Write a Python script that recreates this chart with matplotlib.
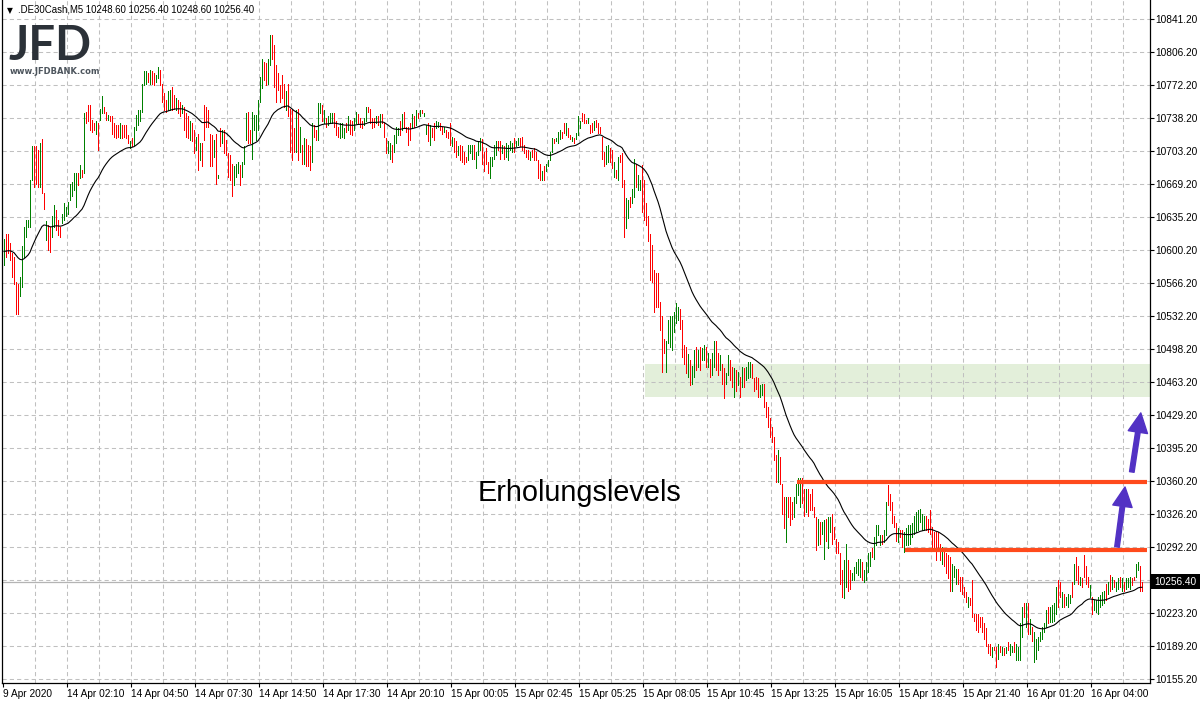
import numpy as np
import pandas as pd
import matplotlib
matplotlib.use("Agg")
import matplotlib.pyplot as plt
from matplotlib.patches import FancyArrowPatch, Rectangle
import matplotlib.transforms as mtransforms

# ---------------- data (M5 bars: high, low, up=1 / down=0) ----------------
highs = [
    10613, 10618, 10618, 10608, 10598, 10594, 10568, 10566, 10573, 10605,
    10625, 10632, 10632, 10674, 10709, 10709, 10709, 10705, 10712, 10716,
    10660, 10631, 10627, 10625, 10636, 10648, 10643, 10632, 10625, 10639,
    10650, 10646, 10651, 10670, 10672, 10681, 10681, 10681, 10689, 10684,
    10743, 10745, 10752, 10752, 10736, 10733, 10735, 10733, 10748, 10761,
    10750, 10745, 10741, 10740, 10740, 10733, 10731, 10731, 10733, 10731,
    10731, 10731, 10721, 10714, 10717, 10729, 10741, 10747, 10747, 10774,
    10787, 10787, 10785, 10788, 10787, 10785, 10783, 10791, 10788, 10774,
    10764, 10757, 10766, 10767, 10771, 10762, 10759, 10757, 10755, 10752,
    10750, 10743, 10740, 10735, 10733, 10726, 10719, 10722, 10712, 10712,
    10752, 10750, 10747, 10722, 10721, 10715, 10722, 10679, 10728, 10726,
    10726, 10715, 10702, 10700, 10691, 10688, 10691, 10693, 10689, 10693,
    10709, 10743, 10745, 10726, 10745, 10741, 10741, 10757, 10781, 10800,
    10797, 10795, 10800, 10825, 10825, 10814, 10793, 10785, 10773, 10783,
    10774, 10766, 10774, 10748, 10748,
    10728, 10747, 10748, 10729, 10710, 10717, 10716, 10710, 10709, 10733,
    10731, 10726, 10754, 10754, 10752, 10747, 10738, 10740, 10743, 10743,
    10743, 10735, 10729, 10733, 10733, 10728, 10733, 10740, 10736, 10735,
    10738, 10745, 10742, 10738, 10735, 10738, 10750, 10750, 10748, 10738,
    10738, 10740, 10740, 10742, 10742, 10733, 10717, 10714, 10712, 10710,
    10721, 10729, 10728, 10735, 10742, 10745, 10729, 10729, 10733, 10742,
    10740, 10747, 10743, 10747, 10747, 10744, 10731, 10733, 10731, 10728,
    10733, 10735, 10734, 10733, 10729, 10729,
    10726, 10724, 10733, 10719, 10717, 10714, 10709, 10710, 10709, 10703,
    10698, 10710, 10710, 10710, 10710, 10703, 10714, 10717, 10716, 10703,
    10707, 10693, 10698, 10698, 10710, 10714, 10714, 10714, 10710, 10709,
    10712, 10710, 10714, 10712, 10717, 10714, 10717, 10717, 10719, 10710,
    10705, 10705, 10703, 10705, 10707, 10703, 10695, 10690, 10683, 10688,
    10691, 10695, 10703, 10717, 10716, 10717, 10724, 10726, 10724, 10733,
    10733, 10728, 10721, 10719, 10717, 10723, 10740, 10735, 10743, 10742,
    10736, 10738, 10731, 10733, 10735, 10736, 10733, 10729,
    10719, 10703, 10709, 10710, 10707, 10705, 10693, 10684, 10698, 10700,
    10702, 10674, 10655, 10653, 10656, 10665, 10696, 10691, 10679, 10674,
    10689, 10674, 10650, 10636, 10618, 10606, 10580, 10577, 10577, 10547,
    10532, 10509, 10507, 10528, 10533, 10532, 10537, 10546, 10542, 10540,
    10528, 10502, 10500, 10493, 10487, 10481, 10497, 10500, 10497, 10500,
    10499, 10502, 10500, 10494, 10488, 10494, 10506, 10507, 10494, 10492,
    10483, 10478, 10473, 10492, 10487, 10480, 10478, 10476, 10474, 10469,
    10480, 10478, 10480, 10485, 10485, 10483, 10468, 10469, 10468, 10461,
    10462, 10462, 10443, 10438, 10426, 10417, 10407, 10388, 10393, 10386,
    10358, 10344, 10344, 10344, 10344, 10339, 10344, 10358, 10364, 10364,
    10364, 10353, 10353, 10353, 10348, 10353, 10334, 10324, 10322, 10318,
    10318, 10320, 10322, 10324, 10324, 10327, 10313, 10301, 10298, 10286,
    10268, 10279, 10296, 10279, 10268, 10265, 10272, 10277, 10280, 10280,
    10277, 10268, 10277, 10286, 10287, 10291, 10303, 10315, 10315, 10305,
    10305, 10310, 10339, 10357, 10348, 10339, 10325, 10317, 10312, 10310,
    10310, 10308, 10312, 10315, 10315,
    10317, 10325, 10329, 10331, 10332, 10327, 10325, 10325, 10322, 10331,
    10313, 10308, 10308, 10308, 10296, 10292, 10289, 10286, 10284, 10282,
    10275, 10273, 10270, 10270, 10261, 10261, 10251, 10246, 10240, 10239,
    10258, 10223, 10223, 10223, 10220, 10220, 10213, 10208, 10192, 10192,
    10188, 10188, 10188, 10192, 10190, 10188, 10187, 10188, 10194, 10192,
    10190, 10194, 10192, 10188, 10213, 10230, 10234, 10234, 10234, 10218,
    10209, 10204, 10197, 10199, 10204, 10209, 10213, 10227, 10230, 10230,
    10232, 10234, 10251, 10258, 10256, 10246, 10244, 10240, 10244, 10242,
    10256, 10275, 10282, 10273, 10261, 10260, 10284, 10273, 10261, 10253,
    10240, 10237, 10237, 10240, 10242, 10246, 10247, 10254, 10256, 10263,
    10261, 10258, 10256, 10260, 10261, 10260, 10256, 10260, 10260, 10261,
    10260, 10261, 10275, 10277, 10273, 10256,
]
lows = [
    10586, 10594, 10598, 10591, 10573, 10566, 10535, 10535, 10553, 10563,
    10594, 10615, 10625, 10625, 10674, 10667, 10670, 10667, 10667, 10660,
    10644, 10612, 10601, 10599, 10615, 10625, 10622, 10617, 10615, 10629,
    10632, 10636, 10639, 10653, 10657, 10663, 10646, 10669, 10676, 10677,
    10681, 10733, 10735, 10726, 10724, 10726, 10722, 10705, 10736, 10743,
    10743, 10736, 10736, 10735, 10722, 10719, 10717, 10719, 10717, 10717,
    10719, 10717, 10712, 10707, 10709, 10710, 10726, 10731, 10735, 10745,
    10773, 10774, 10776, 10774, 10774, 10773, 10776, 10780, 10773, 10755,
    10747, 10745, 10747, 10747, 10747, 10748, 10747, 10743, 10740, 10743,
    10726, 10719, 10717, 10715, 10714, 10702, 10705, 10684, 10695, 10688,
    10715, 10729, 10729, 10688, 10688, 10698, 10670, 10676, 10709, 10712,
    10702, 10700, 10677, 10674, 10657, 10669, 10677, 10681, 10669, 10677,
    10690, 10715, 10712, 10712, 10696, 10726, 10715, 10726, 10755, 10769,
    10778, 10773, 10774, 10793, 10800, 10771, 10755, 10767, 10755, 10759,
    10750, 10747, 10740, 10703, 10695,
    10703, 10703, 10695, 10703, 10690, 10690, 10688, 10688, 10684, 10693,
    10719, 10715, 10715, 10743, 10735, 10733, 10729, 10731, 10733, 10733,
    10729, 10721, 10719, 10717, 10719, 10717, 10724, 10726, 10722, 10721,
    10726, 10733, 10733, 10729, 10728, 10731, 10735, 10745, 10733, 10728,
    10729, 10733, 10731, 10729, 10733, 10719, 10702, 10702, 10696, 10693,
    10703, 10712, 10721, 10721, 10726, 10728, 10724, 10710, 10715, 10728,
    10729, 10731, 10738, 10740, 10743, 10740, 10722, 10714, 10710, 10719,
    10715, 10728, 10729, 10726, 10722, 10724,
    10719, 10717, 10710, 10709, 10703, 10698, 10700, 10695, 10693, 10691,
    10693, 10695, 10702, 10696, 10696, 10686, 10700, 10705, 10690, 10683,
    10690, 10681, 10676, 10688, 10696, 10700, 10705, 10696, 10702, 10696,
    10698, 10695, 10705, 10703, 10703, 10709, 10710, 10709, 10705, 10702,
    10698, 10696, 10695, 10698, 10695, 10695, 10676, 10674, 10674, 10674,
    10683, 10688, 10695, 10703, 10712, 10714, 10712, 10716, 10717, 10723,
    10721, 10719, 10716, 10714, 10712, 10716, 10721, 10728, 10735, 10733,
    10733, 10733, 10723, 10724, 10726, 10729, 10723, 10723,
    10696, 10688, 10691, 10693, 10693, 10686, 10677, 10676, 10674, 10693,
    10667, 10615, 10624, 10634, 10646, 10650, 10656, 10667, 10663, 10663,
    10641, 10632, 10627, 10610, 10570, 10568, 10537, 10542, 10542, 10518,
    10474, 10494, 10474, 10504, 10500, 10497, 10516, 10525, 10528, 10519,
    10490, 10483, 10473, 10469, 10461, 10462, 10469, 10476, 10480, 10476,
    10487, 10487, 10480, 10480, 10469, 10471, 10480, 10476, 10471, 10476,
    10462, 10447, 10462, 10471, 10466, 10459, 10448, 10455, 10461, 10448,
    10459, 10459, 10466, 10468, 10469, 10468, 10455, 10457, 10448, 10448,
    10450, 10438, 10428, 10417, 10407, 10402, 10383, 10360, 10360, 10358,
    10327, 10312, 10298, 10324, 10315, 10322, 10324, 10338, 10346, 10334,
    10338, 10325, 10329, 10325, 10331, 10331, 10324, 10289, 10294, 10296,
    10306, 10280, 10299, 10291, 10308, 10296, 10301, 10286, 10286, 10254,
    10240, 10239, 10251, 10247, 10249, 10258, 10258, 10265, 10263, 10261,
    10258, 10256, 10258, 10266, 10273, 10282, 10280, 10294, 10305, 10294,
    10296, 10298, 10305, 10336, 10331, 10317, 10313, 10299, 10298, 10303,
    10292, 10287, 10294, 10294, 10296,
    10303, 10306, 10308, 10310, 10318, 10310, 10310, 10310, 10308, 10306,
    10292, 10289, 10279, 10289, 10279, 10275, 10273, 10265, 10260, 10247,
    10247, 10261, 10254, 10254, 10247, 10244, 10240, 10235, 10230, 10232,
    10220, 10216, 10206, 10204, 10209, 10204, 10197, 10190, 10182, 10180,
    10178, 10185, 10168, 10176, 10183, 10180, 10180, 10182, 10185, 10180,
    10183, 10183, 10175, 10175, 10175, 10199, 10220, 10209, 10202, 10202,
    10195, 10173, 10176, 10185, 10195, 10197, 10204, 10209, 10213, 10214,
    10214, 10216, 10223, 10230, 10240, 10230, 10230, 10232, 10230, 10234,
    10240, 10254, 10258, 10254, 10253, 10251, 10261, 10254, 10251, 10240,
    10223, 10227, 10225, 10223, 10230, 10232, 10234, 10237, 10244, 10247,
    10249, 10251, 10247, 10249, 10251, 10247, 10247, 10249, 10251, 10249,
    10253, 10258, 10261, 10268, 10247, 10247,
]
up = [
    1, 0, 0, 0, 0, 0, 0, 0, 1, 1, 1, 1, 1, 1, 1, 0, 0, 0, 1, 0,
    0, 1, 0, 0, 1, 1, 0, 0, 0, 1, 1, 1, 1, 1, 1, 1, 1, 0, 1, 0,
    1, 0, 0, 0, 0, 0, 1, 0, 1, 1, 0, 0, 1, 0, 0, 0, 0, 0, 1, 0,
    0, 0, 0, 1, 0, 1, 1, 1, 1, 1, 1, 1, 0, 1, 0, 0, 1, 1, 0, 0,
    0, 0, 1, 1, 0, 0, 1, 0, 0, 1, 0, 0, 0, 1, 0, 0, 1, 0, 1, 0,
    0, 0, 0, 0, 0, 1, 0, 1, 0, 1, 0, 0, 0, 0, 0, 1, 1, 1, 0, 1,
    1, 1, 0, 0, 1, 1, 1, 1, 1, 1, 0, 0, 1, 1, 0, 0, 0, 0, 0, 0,
    0, 1, 0, 0, 0,
    0, 1, 0, 1, 0, 1, 0, 0, 0, 1, 0, 0, 1, 1, 0, 1, 0, 1, 1, 1,
    0, 0, 0, 1, 1, 1, 0, 1, 0, 0, 1, 1, 0, 0, 0, 1, 1, 0, 0, 0,
    0, 1, 0, 1, 0, 0, 0, 1, 1, 0, 1, 1, 1, 0, 1, 0, 0, 0, 0, 1,
    0, 1, 0, 1, 0, 1, 1, 0, 1, 0, 0, 1, 1, 0, 0, 1,
    0, 0, 0, 1, 0, 0, 1, 0, 0, 0, 0, 1, 1, 1, 0, 1, 1, 1, 0, 0,
    0, 0, 1, 1, 1, 1, 0, 0, 1, 0, 1, 1, 1, 1, 0, 1, 1, 0, 0, 0,
    0, 0, 1, 0, 0, 0, 0, 0, 1, 0, 1, 1, 1, 1, 0, 1, 1, 1, 0, 0,
    1, 0, 0, 1, 0, 1, 1, 1, 0, 0, 0, 1, 0, 0, 1, 0, 0, 0,
    0, 0, 1, 1, 0, 0, 1, 0, 1, 0, 0, 0, 1, 1, 0, 1, 1, 0, 1, 1,
    0, 0, 0, 0, 0, 0, 0, 0, 0, 0, 0, 0, 1, 1, 1, 1, 1, 1, 1, 0,
    0, 0, 0, 1, 0, 1, 1, 0, 1, 0, 1, 1, 0, 1, 0, 1, 1, 0, 0, 1,
    0, 0, 1, 1, 0, 0, 1, 0, 1, 0, 1, 0, 1, 1, 1, 0, 0, 0, 0, 1,
    1, 0, 0, 0, 0, 0, 0, 0, 1, 0, 0, 0, 1, 0, 0, 0, 1, 1, 1, 1,
    0, 0, 1, 0, 0, 0, 0, 0, 1, 0, 1, 1, 0, 1, 1, 0, 0, 0, 0, 0,
    0, 1, 1, 0, 0, 1, 1, 1, 1, 1, 0, 1, 1, 1, 1, 0, 1, 1, 1, 1,
    0, 1, 1, 0, 0, 0, 0, 0, 1, 0, 0, 1, 1, 1,
    1, 1, 1, 1, 1, 1, 1, 1, 0, 0, 0, 0, 0, 0, 0, 0, 1, 0, 0, 0,
    0, 1, 1, 1, 0, 0, 0, 0, 0, 1, 0, 0, 0, 0, 0, 0, 0, 0, 0, 0,
    0, 1, 0, 0, 1, 0, 1, 0, 1, 0, 1, 1, 0, 1, 1, 1, 1, 0, 1, 0,
    1, 0, 1, 1, 1, 1, 1, 1, 1, 0, 1, 1, 1, 1, 0, 0, 1, 0, 1, 1,
    1, 0, 1, 0, 0, 1, 0, 0, 0, 0, 1, 0, 1, 1, 1, 1, 1, 1, 0, 1,
    0, 1, 0, 1, 1, 0, 1, 0, 1, 1, 1, 0, 0, 1,
]

price_labels = ["10841.20", "10806.20", "10772.20", "10738.20", "10703.20",
                "10669.20", "10635.20", "10600.20", "10566.20", "10532.20",
                "10498.20", "10463.20", "10429.20", "10395.20", "10360.20",
                "10326.20", "10292.20", "", "10223.20", "10189.20", "10155.20"]
time_labels = ["9 Apr 2020", "14 Apr 02:10", "14 Apr 04:50", "14 Apr 07:30",
               "14 Apr 14:50", "14 Apr 17:30", "14 Apr 20:10", "15 Apr 00:05",
               "15 Apr 02:45", "15 Apr 05:25", "15 Apr 08:05", "15 Apr 10:45",
               "15 Apr 13:25", "15 Apr 16:05", "15 Apr 18:45", "15 Apr 21:40",
               "16 Apr 01:20", "16 Apr 04:00"]
zone_low, zone_high = 10448.3, 10482.6
resistance_levels = [10360.2, 10289.3]
last_price = 10256.40
header = ".DE30Cash,M5 10248.60 10256.40 10248.60 10256.40"

# ---------------- figure ----------------
plt.rcParams['font.family'] = ['Liberation Sans', 'DejaVu Sans']
FS = 7.3

W, H = 1201, 703
fig = plt.figure(figsize=(W / 100, H / 100), dpi=100)
fig.patch.set_facecolor('white')
L, R, T, B = 2, 1150, 0, 683
ax = fig.add_axes([L / W, 1 - B / H, (R - L) / W, (B - T) / H])
ax.set_facecolor('white')

n = len(highs)
xi = np.arange(n)
hi = np.array(highs, float)
lo = np.array(lows, float)
colors = np.where(np.array(up) == 1, '#008000', '#ff0000')

p_top = float(price_labels[0])
p_bot = float(price_labels[-1])
grid_pos = np.linspace(p_top, p_bot, len(price_labels))
step = (p_top - p_bot) / (len(price_labels) - 1)
px = step / 33.0  # price per pixel
ax.set_ylim(p_bot - 4 * px, p_top + 19 * px)
ax.set_xlim(-1, 573)

# grid
gcol = '#c0c0c0'
for p in grid_pos:
    ax.axhline(p, color=gcol, lw=0.75, ls=(0, (4, 3)), zorder=1)
for v in np.arange(15.5, 572, 16):
    ax.axvline(v, color=gcol, lw=0.75, ls=(0, (4, 3)), zorder=1)

# recovery zone
ax.add_patch(Rectangle((320.5, zone_low), 600, zone_high - zone_low,
                       facecolor='#e3efda', edgecolor='none', zorder=0.5))

# current price line
ax.axhline(last_price, color='#b4b4b4', lw=0.9, zorder=1.5)

# bars
ax.vlines(xi, lo, hi, colors=colors, linewidth=0.62, antialiased=False, zorder=3)

# moving average
mid = pd.Series((hi + lo) / 2.0)
ma = mid.ewm(span=34, adjust=False).mean()
ax.plot(xi, ma.values, color='black', lw=0.8, zorder=4)

# recovery levels
ax.plot([396.5, 571.5], [resistance_levels[0]] * 2, color='#ff4a1c', lw=3.0,
        solid_capstyle='butt', zorder=5)
ax.plot([450.5, 571.5], [resistance_levels[1]] * 2, color='#ff4a1c', lw=3.0,
        solid_capstyle='butt', zorder=5)

# arrows
arrow_col = '#5232c4'
for (x0, y0), (x1, y1) in [((556.5, 10292.4), (560.5, 10354.8)),
                           ((563.9, 10370.4), (568.4, 10431.8))]:
    ax.add_patch(FancyArrowPatch((x0, y0), (x1, y1),
                                 arrowstyle='simple,head_width=14,head_length=14,tail_width=3.3',
                                 mutation_scale=1, color=arrow_col, shrinkA=0, shrinkB=0,
                                 zorder=6))

ax.text(288, 10349, 'Erholungslevels', fontsize=20.8, family='Liberation Sans',
        ha='center', va='center', color='black', zorder=6)

# axes styling
for s in ['left', 'bottom', 'right']:
    ax.spines[s].set_color('black')
    ax.spines[s].set_linewidth(0.9)
ax.spines['top'].set_visible(False)
ax.yaxis.tick_right()
ax.set_yticks(grid_pos)
ax.set_yticklabels(price_labels)
tick_pos = np.arange(len(time_labels)) * 32 - 0.5
ax.set_xticks(tick_pos)
ax.set_xticklabels(time_labels)
ax.tick_params(axis='both', direction='out', length=3, width=0.8, color='black',
               labelsize=FS, pad=1)
ax.tick_params(axis='x', pad=1.5)
for lab in ax.get_xticklabels():
    lab.set_horizontalalignment('left')

# current price tag
trans = mtransforms.blended_transform_factory(ax.transAxes, ax.transData)
ax.add_patch(Rectangle((1.0005, last_price - 7.3 * px), 49 / (R - L), 14.6 * px,
                       transform=trans, facecolor='black', edgecolor='none',
                       clip_on=False, zorder=10))
ax.text(1.0040, last_price, '10256.40', transform=trans, color='white',
        fontsize=FS, ha='left', va='center', clip_on=False, zorder=11)

# header
fig.text(7 / W, 1 - 10.5 / H, '▼', fontsize=5.5, family='DejaVu Sans',
         ha='left', va='center', color='black')
fig.text(18 / W, 1 - 10 / H, header, fontsize=6.9, ha='left', va='center',
         color='black')

# logo
fig.text(8 / W, 1 - 60 / H, 'JFD', fontsize=34, fontweight='bold', family='Lato',
         color='#2b3138', ha='left', va='baseline')
fig.text(10 / W, 1 - 71 / H, 'www.JFDBANK.com', fontsize=6, fontweight='bold',
         family='DejaVu Sans', color='#4d555d', ha='left', va='center')

fig.savefig('out.png', dpi=100, facecolor='white')
